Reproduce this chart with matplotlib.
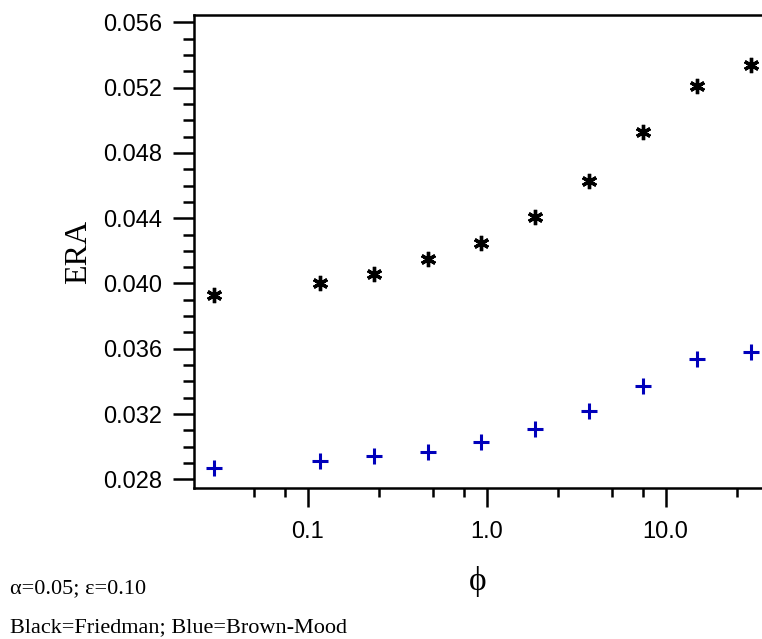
import numpy as np
import matplotlib
matplotlib.use('Agg')
import matplotlib.pyplot as plt
from matplotlib.ticker import FixedLocator, FixedFormatter, MultipleLocator, FormatStrFormatter

# phi values (log scale) and ERA for the two tests
phi = [0.03, 0.1172, 0.2344, 0.4688, 0.9375, 1.875, 3.75, 7.5, 15.0, 30.0]
era_friedman = [0.0393, 0.0400, 0.0406, 0.0415, 0.0425, 0.0441, 0.0463, 0.0493, 0.0521, 0.0534]
era_brownmood = [0.0287, 0.0291, 0.0294, 0.0297, 0.0303, 0.0311, 0.0322, 0.0337, 0.0354, 0.0358]

xmajor = [0.1, 1.0, 10.0]
xmajor_labels = ['0.1', '1.0', '10.0']
xminor = [0.05, 0.075, 0.25, 0.5, 0.75, 2.5, 5.0, 7.5, 25.0]

sans = ['Liberation Sans', 'DejaVu Sans']
serif = ['Liberation Serif', 'DejaVu Serif']

fig = plt.figure(figsize=(7.62, 6.39), dpi=100)
ax = fig.add_axes([194/762, 1-488/639, 1-194/762, (488-15)/639])

ax.plot(phi, era_friedman, linestyle='none', marker=(6, 2, 0), markersize=11,
        markeredgewidth=2.4, color='black')
ax.plot(phi, era_brownmood, linestyle='none', marker='+', markersize=12,
        markeredgewidth=2.2, color='#0000bb')

ax.set_xscale('log')
ax.set_xlim(0.02322, 34.6)
ax.set_ylim(0.02747, 0.05645)

ax.xaxis.set_major_locator(FixedLocator(xmajor))
ax.xaxis.set_major_formatter(FixedFormatter(xmajor_labels))
ax.xaxis.set_minor_locator(FixedLocator(xminor))
ax.xaxis.set_minor_formatter(FixedFormatter([''] * len(xminor)))
ax.yaxis.set_major_locator(MultipleLocator(0.004))
ax.yaxis.set_minor_locator(MultipleLocator(0.001))
ax.yaxis.set_major_formatter(FormatStrFormatter('%.3f'))

ax.spines['right'].set_visible(False)
for s in ['left', 'top', 'bottom']:
    ax.spines[s].set_linewidth(1.8)

ax.tick_params(axis='y', which='major', length=15, width=1.8, pad=8, labelsize=17)
ax.tick_params(axis='y', which='minor', length=8, width=1.8)
ax.tick_params(axis='x', which='major', length=13.5, width=1.8, pad=10, labelsize=17)
ax.tick_params(axis='x', which='minor', length=6.5, width=1.8)
for lab in ax.get_xticklabels() + ax.get_yticklabels():
    lab.set_family(sans)

ax.set_ylabel('ERA', family=serif, fontsize=23, labelpad=7)
ax.set_xlabel('\u03d5', family=serif, fontsize=24, labelpad=17)

fig.text(10/762, 1-589/639, '\u03b1=0.05; \u03b5=0.10', family=serif, fontsize=16,
         va='center', ha='left')
fig.text(10/762, 1-628/639, 'Black=Friedman; Blue=Brown-Mood', family=serif, fontsize=16,
         va='center', ha='left')

fig.savefig('out.png', dpi=100)
